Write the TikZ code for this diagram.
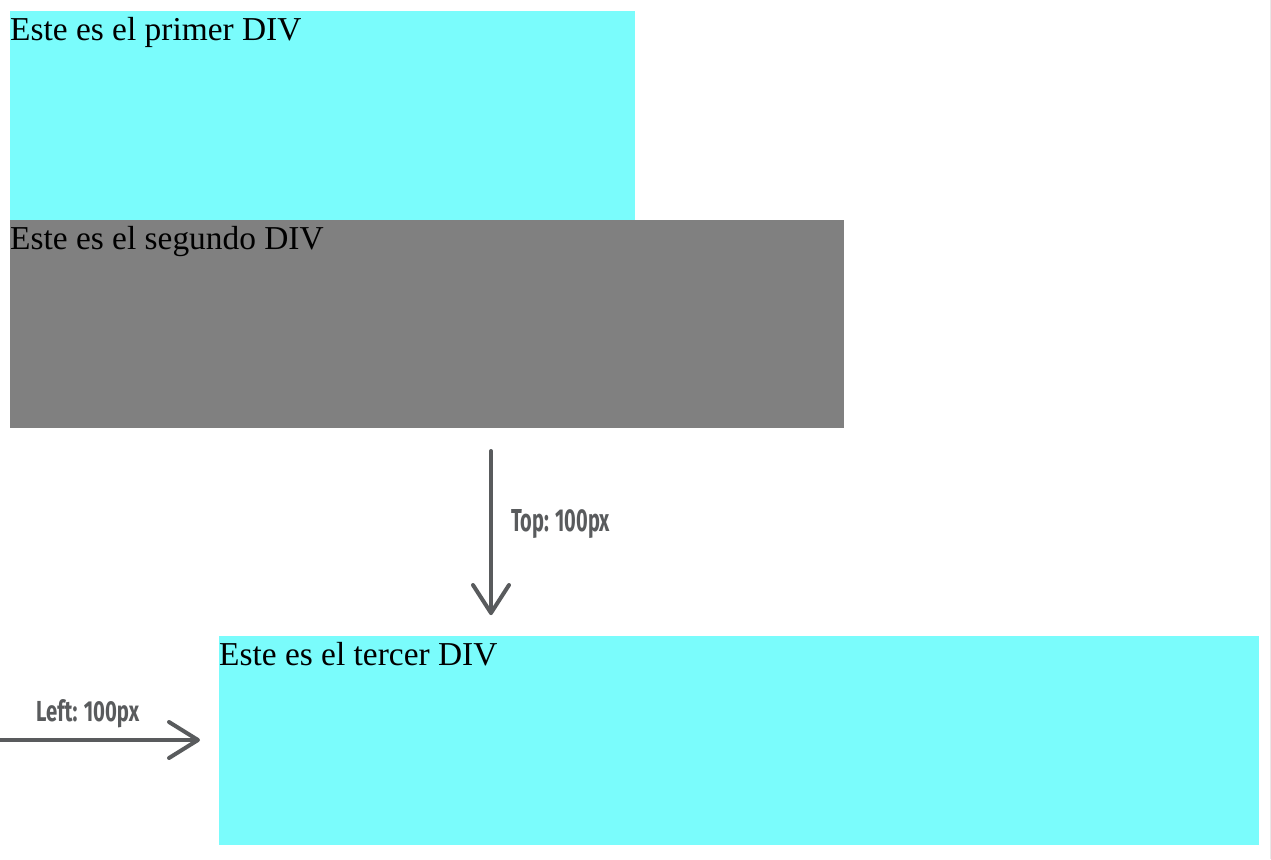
\documentclass[tikz,border=0pt]{standalone}
\usepackage{fontspec}
\setmainfont{Liberation Serif}
\newfontfamily\labelfont{Fira Sans}
\usepackage{graphicx}
\definecolor{divcyan}{HTML}{7AFCFC}
\definecolor{divgray}{HTML}{808080}
\definecolor{arrowgray}{HTML}{595B5D}
\definecolor{edgegray}{HTML}{E8E8E8}
\tikzset{
  divbox/.style={inner sep=0pt, outer sep=0pt, anchor=north west},
  divtext/.style={inner sep=0pt, anchor=base west, font=\fontsize{33.4}{40}\selectfont, text=black},
  pointer/.style={draw=arrowgray, line width=4pt, line cap=round, line join=round},
  measure/.style={inner sep=0pt, text=arrowgray}
}
\begin{document}
\begin{tikzpicture}[x=1pt,y=-1pt]
\useasboundingbox (0,0) rectangle (1271,859);
\fill[white] (0,0) rectangle (1271,859);
\draw[edgegray, line width=1pt] (1270.5,0) -- (1270.5,859);
% boxes
\node[divbox, fill=divcyan, minimum width=625pt, minimum height=210pt] (d1) at (10,11) {};
\node[divbox, fill=divgray, minimum width=834pt, minimum height=208pt] (d2) at (10,220) {};
\node[divbox, fill=divcyan, minimum width=1040pt, minimum height=209pt] (d3) at (219,636) {};
% texts
\node[divtext] (t1) at (10,40.5) {Este es el primer DIV};
\node[divtext] (t2) at (10,249.5) {Este es el segundo DIV};
\node[divtext] (t3) at (219,665.5) {Este es el tercer DIV};
% vertical arrow
\coordinate (vs) at (491,451);
\coordinate (vt) at (491,613);
\draw[pointer] (vs) -- (vt);
\draw[pointer] (vt) ++(-18,-28) -- (vt) -- ++(18,-28);
\node[measure, anchor=west] (toplab) at (511,524) {\resizebox{99pt}{22pt}{\labelfont\bfseries Top: 100px}};
% horizontal arrow
\coordinate (hs) at (0,740);
\coordinate (ht) at (198,740);
\draw[pointer, line cap=butt] (hs) -- (ht);
\draw[pointer] (ht) ++(-29,-18) -- (ht) -- ++(-29,18);
\node[measure, anchor=west] (leftlab) at (36,714) {\resizebox{103pt}{22pt}{\labelfont\bfseries Left: 100px}};
\end{tikzpicture}
\end{document}
